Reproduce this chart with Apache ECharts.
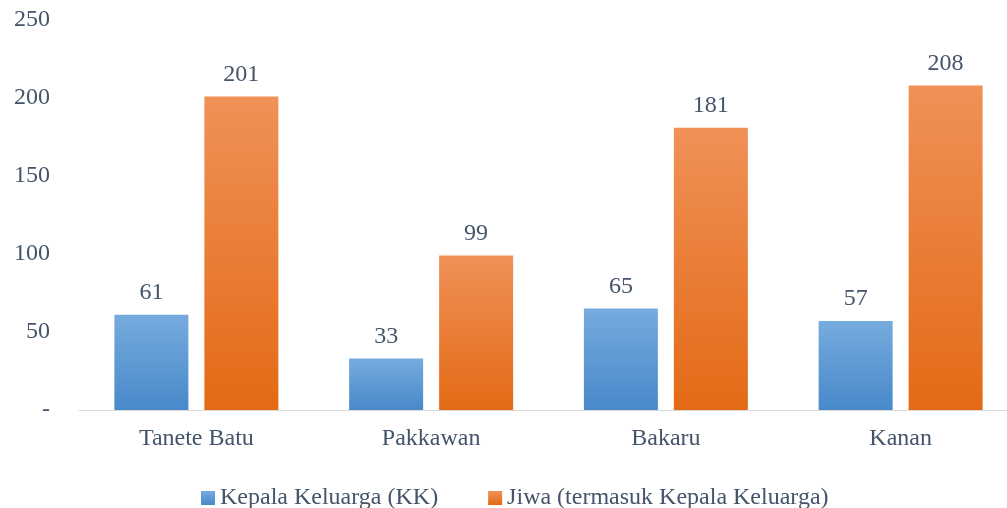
<!DOCTYPE html>
<html><head><meta charset="utf-8">
<script src="https://cdn.jsdelivr.net/npm/echarts@6/dist/echarts.min.js"></script>
<style>html,body{margin:0;padding:0;background:#fff}#c{width:1007px;height:508px}</style>
</head><body><div id="c"></div>
<script>
const categories = ['Tanete Batu', 'Pakkawan', 'Bakaru', 'Kanan'];
const seriesNames = ['Kepala Keluarga (KK)', 'Jiwa (termasuk Kepala Keluarga)'];
const kkValues = [61, 33, 65, 57];
const jiwaValues = [201, 99, 181, 208];

const FONT = 'Liberation Serif';
const TXT = '#44546a';
const FS = 24;
function grad(top, bottom) {
  return new echarts.graphic.LinearGradient(0, 0, 0, 1, [{offset: 0, color: top}, {offset: 1, color: bottom}]);
}
const chart = echarts.init(document.getElementById('c'));
chart.setOption({
  animation: false,
  textStyle: {fontFamily: FONT},
  grid: {left: 79, width: 939, top: 20, bottom: 98, containLabel: false, outerBoundsMode: 'none'},
  legend: {
    top: 481, left: 196, itemWidth: 14, itemHeight: 14, itemGap: 50,
    icon: 'rect',
    textStyle: {fontFamily: FONT, fontSize: FS, color: TXT},
    data: seriesNames
  },
  xAxis: {
    type: 'category', data: categories,
    axisLine: {lineStyle: {color: '#d9d9d9', width: 1}},
    axisTick: {show: false},
    axisLabel: {fontFamily: FONT, fontSize: FS, color: TXT, margin: 17}
  },
  yAxis: {
    type: 'value', min: 0, max: 250, interval: 50,
    axisLine: {show: false}, axisTick: {show: false}, splitLine: {show: false},
    axisLabel: {fontFamily: FONT, fontSize: FS, color: TXT, margin: 29,
      formatter: v => v === 0 ? '-' : String(v)}
  },
  series: [
    {name: seriesNames[0], type: 'bar', data: kkValues, barWidth: 74, barGap: '21.6%',
     itemStyle: {color: grad('#76abde', '#4889ca')},
     label: {show: true, position: 'top', distance: 10, fontFamily: FONT, fontSize: FS, color: TXT}},
    {name: seriesNames[1], type: 'bar', data: jiwaValues, barWidth: 74,
     itemStyle: {color: grad('#f09158', '#e36a15')},
     label: {show: true, position: 'top', distance: 10, fontFamily: FONT, fontSize: FS, color: TXT}}
  ]
});
</script></body></html>
